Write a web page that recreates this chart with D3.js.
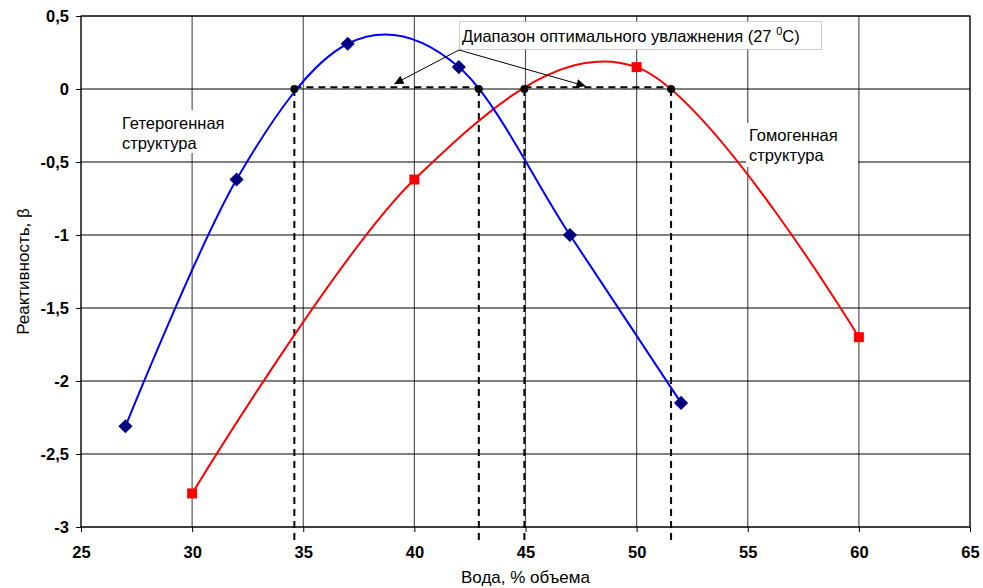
<!DOCTYPE html>
<html><head><meta charset="utf-8">
<script src="https://cdn.jsdelivr.net/npm/d3@7"></script>
<style>body{margin:0;background:#fff}svg{display:block;font-family:"Liberation Sans",Arial,sans-serif}</style>
</head><body><svg id="c" width="983" height="588"></svg>
<script>
const xTicks = [25,30,35,40,45,50,55,60,65];
const yTicks = [0.5,0,-0.5,-1,-1.5,-2,-2.5,-3];
const yTickLabels = ["0,5","0","-0,5","-1","-1,5","-2","-2,5","-3"];
const blueX = [27,32,37,42,47,52];
const blueY = [-2.31,-0.62,0.31,0.15,-1.0,-2.15];
const redX = [30,40,50,60];
const redY = [-2.77,-0.62,0.15,-1.7];
const rangeBlue = [34.6,42.9];
const rangeRed = [44.95,51.55];
const rangeLevel = 0.012;
const arrowTargets = [[39.1,0.035],[47.7,0.02]];
const xTitle = "Вода, % объема";
const yTitle = "Реактивность, β";
const noteText = "Диапазон оптимального увлажнения (27 ";
const labelHetero = ["Гетерогенная","структура"];
const labelHomo = ["Гомогенная","структура"];

const svg = d3.select("#c");
const x = d3.scaleLinear().domain([25,65]).range([81,970]);
const y = d3.scaleLinear().domain([-3,0.5]).range([527,16]);

// grid
const g = svg.append("g");
g.selectAll(".vg").data(xTicks).join("line")
  .attr("x1",d=>x(d)).attr("x2",d=>x(d)).attr("y1",y(0.5)).attr("y2",y(-3))
  .attr("stroke","#555").attr("stroke-width",1.2);
g.selectAll(".hg").data(yTicks).join("line")
  .attr("x1",x(25)).attr("x2",x(65)).attr("y1",d=>y(d)).attr("y2",d=>y(d))
  .attr("stroke","#000").attr("stroke-width",1);

// axes
const xAxis = d3.axisBottom(x).tickValues(xTicks).tickSize(5).tickPadding(14).tickFormat(d3.format("d"));
const yAxis = d3.axisLeft(y).tickValues(yTicks).tickSize(5).tickPadding(7).tickFormat((d,i)=>yTickLabels[i]);
const ax = svg.append("g").attr("transform",`translate(0,${y(-3)})`).call(xAxis);
const ay = svg.append("g").attr("transform",`translate(${x(25)},0)`).call(yAxis);
[ax,ay].forEach(a=>{
  a.select(".domain").remove();
  a.selectAll("line").attr("stroke","#000");
  a.selectAll("text").attr("font-size",16.5).attr("font-weight","bold").attr("fill","#000").attr("font-family","Liberation Sans, Arial, sans-serif");
});
// frame
svg.append("rect").attr("x",x(25)).attr("y",y(0.5)).attr("width",x(65)-x(25)).attr("height",y(-3)-y(0.5))
  .attr("fill","none").attr("stroke","#000").attr("stroke-width",1);

// label boxes
function labelBox(lines, bx, by, bw, bh, tx, ty){
  svg.append("rect").attr("x",bx).attr("y",by).attr("width",bw).attr("height",bh).attr("fill","#fff");
  const t = svg.append("text").attr("font-size",16.5).attr("fill","#000");
  lines.forEach((l,i)=>t.append("tspan").attr("x",tx).attr("y",ty+i*20).text(l));
}
labelBox(labelHetero, 114, 110, 118, 43, 122, 129);
labelBox(labelHomo, 746, 123, 112, 44, 749, 141);

// dashed range lines
const dash = svg.append("g").attr("stroke","#000").attr("stroke-width",2).attr("stroke-dasharray","7,5").attr("fill","none");
[rangeBlue, rangeRed].forEach(r=>{
  dash.append("line").attr("x1",x(r[0])).attr("x2",x(r[1])).attr("y1",y(rangeLevel)).attr("y2",y(rangeLevel));
  r.forEach(v=>dash.append("line").attr("x1",x(v)).attr("x2",x(v)).attr("y1",y(0)).attr("y2",y(-3)+16));
});

// curves
const line = d3.line().x(d=>x(d[0])).y(d=>y(d[1])).curve(d3.curveCatmullRom.alpha(0));
const bluePts = blueX.map((v,i)=>[v,blueY[i]]);
const redPts = redX.map((v,i)=>[v,redY[i]]);
svg.append("path").attr("d",line(redPts)).attr("fill","none").attr("stroke","#ff0000").attr("stroke-width",2);
svg.append("path").attr("d",line(bluePts)).attr("fill","none").attr("stroke","#0000ff").attr("stroke-width",2);

// markers
svg.selectAll(".sq").data(redPts).join("rect")
  .attr("x",d=>x(d[0])-5).attr("y",d=>y(d[1])-5).attr("width",10).attr("height",10).attr("fill","#ff0000");
svg.selectAll(".dm").data(bluePts).join("path")
  .attr("d",d3.symbol(d3.symbolSquare,100)).attr("transform",d=>`translate(${x(d[0])},${y(d[1])}) rotate(45)`)
  .attr("fill","#000080");

// range dots
svg.selectAll(".dot").data(rangeBlue.concat(rangeRed)).join("circle")
  .attr("cx",d=>x(d)).attr("cy",y(0)).attr("r",4).attr("fill","#000");

// annotation box
svg.append("rect").attr("x",459.5).attr("y",21.5).attr("width",362).attr("height",28)
  .attr("fill","#fff").attr("stroke","#999").attr("stroke-width",1).attr("stroke-dasharray","1,1");
const nt = svg.append("text").attr("x",462).attr("y",42).attr("font-size",16.5).attr("fill","#000");
nt.append("tspan").text(noteText);
nt.append("tspan").attr("font-size",11).attr("dy",-7).text("0");
nt.append("tspan").attr("dy",7).text("C)");

// arrows
svg.append("defs").append("marker").attr("id","ah").attr("viewBox","0 0 10 10").attr("refX",10).attr("refY",5)
  .attr("markerWidth",12).attr("markerHeight",9).attr("markerUnits","userSpaceOnUse").attr("orient","auto")
  .append("path").attr("d","M0,0L10,5L0,10z").attr("fill","#000");
const ox = 459, oy = 50;
arrowTargets.forEach(p=>{
  svg.append("line").attr("x1",ox).attr("y1",oy).attr("x2",x(p[0])).attr("y2",y(p[1]))
    .attr("stroke","#000").attr("stroke-width",1).attr("marker-end","url(#ah)");
});

// titles
svg.append("text").attr("x",x(45)).attr("y",583).attr("text-anchor","middle").attr("font-size",17).text(xTitle);
svg.append("text").attr("transform",`translate(29,${(y(0.5)+y(-3))/2}) rotate(-90)`).attr("text-anchor","middle").attr("font-size",17).text(yTitle);
</script></body></html>
